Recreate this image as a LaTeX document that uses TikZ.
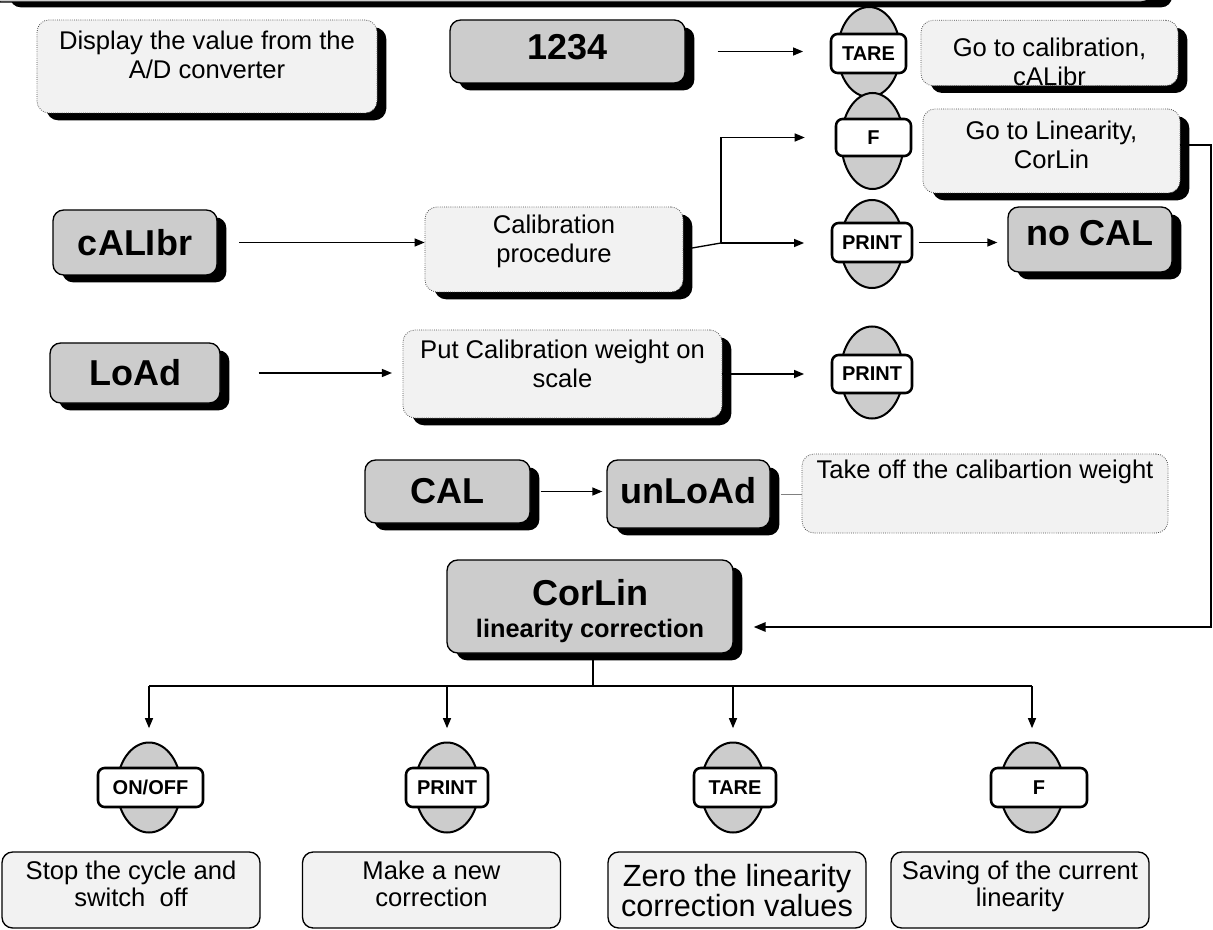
\documentclass[tikz,border=0pt]{standalone}
\usepackage{fontspec}
\setmainfont{Liberation Sans}
\usetikzlibrary{shapes.geometric,shadows,arrows.meta}

\definecolor{keygrey}{RGB}{204,204,204}
\definecolor{notegrey}{RGB}{242,242,242}

\tikzset{
	blackshadow/.style={drop shadow={shadow xshift=7pt,shadow yshift=-5.5pt,opacity=1,fill=black}},
	dispbox/.style={draw=black,line width=1pt,fill=keygrey,rounded corners=8pt,blackshadow,inner sep=2pt,font=\fontsize{27}{30}\selectfont\bfseries},
	notebox/.style={draw=black!70,densely dotted,line width=0.6pt,fill=notegrey,rounded corners=9pt,inner sep=2pt,align=center,font=\fontsize{19.2}{21.8}\selectfont,text height=35.8pt},
	shadenote/.style={notebox,blackshadow},
	endbox/.style={draw=black,line width=1pt,fill=notegrey,rounded corners=8pt,inner sep=2pt,align=center,font=\fontsize{19.2}{20.3}\selectfont,text height=34.3pt,text depth=9.2pt,minimum width=193.5pt,minimum height=57pt},
	keyoval/.style={ellipse,draw=black,line width=1.5pt,fill=keygrey,minimum width=47pt,minimum height=67.5pt,inner sep=0pt},
	keyface/.style={draw=black,line width=1.9pt,fill=white,rounded corners=5pt,minimum height=29.25pt,inner sep=1pt,font=\fontsize{15}{17}\selectfont\bfseries},
	arr/.style={-{Triangle[length=7.5pt,width=6pt]},line width=1pt},
}

\begin{document}
\begin{tikzpicture}[x=0.75pt,y=0.75pt,yscale=-1,xscale=1]
	\useasboundingbox (0,0) rectangle (1213,930);
	
	% display box cut off at the top
	\node[draw=black,line width=1pt,fill=keygrey,rounded corners=8pt,drop shadow={shadow xshift=15pt,shadow yshift=-4pt,opacity=1,fill=black},minimum width=871.5pt,minimum height=48pt] (topbar) at (571,-30) {};
	
	% row 1
	\node[shadenote,minimum width=255pt,minimum height=69.75pt,text depth=17.5pt] (adview) at (207,66.5) {Display the value from the\\A/D converter};
	\node[dispbox,minimum width=176.25pt,minimum height=47.25pt,text height=19.3pt,text depth=6.8pt] (num1234) at (567.5,51.5) {1234};
	\node[keyoval] (tareAkey) at (869,52) {};
	\node[keyface,minimum width=56.25pt] (tareA) at (868.5,53.5) {TARE};
	\node[shadenote,minimum width=192.75pt,minimum height=46.5pt,inner ysep=0pt,text height=49pt,text depth=-3pt] (gocal) at (1049.5,53) {Go to calibration,\\cALibr};
	
	% row 2
	\node[keyoval,minimum height=72pt] (fAkey) at (872.5,141) {};
	\node[keyface,minimum width=56.25pt,minimum height=27.75pt] (fA) at (873.5,137.5) {F};
	\node[shadenote,minimum width=192.75pt,minimum height=63pt,text depth=10pt] (golin) at (1051.5,151) {Go to Linearity,\\CorLin};
	
	% row 3
	\node[dispbox,minimum width=123pt,minimum height=48.75pt] (calibr) at (135,242.5) {cALIbr};
	\node[shadenote,minimum width=193.5pt,minimum height=63.75pt,text depth=16.8pt] (calproc) at (554,249.5) {Calibration\\procedure};
	\node[keyoval,minimum height=66pt] (printAkey) at (872,244) {};
	\node[keyface,minimum width=60pt] (printA) at (872,242.5) {PRINT};
	\node[dispbox,minimum width=123pt,minimum height=48.75pt,text height=19.3pt,text depth=9.8pt] (nocal) at (1090,239.5) {no CAL};
	
	% row 4
	\node[dispbox,minimum width=127.5pt,minimum height=45pt] (load) at (135,373) {LoAd};
	\node[shadenote,minimum width=239.25pt,minimum height=66pt,text depth=16pt] (putcal) at (562.5,374) {Put Calibration weight on\\scale};
	\node[keyoval,minimum height=69pt] (printBkey) at (872,372.5) {};
	\node[keyface,minimum width=60pt,minimum height=28.5pt] (printB) at (872,374) {PRINT};
	
	% row 5
	\node[dispbox,minimum width=123.75pt,minimum height=47.25pt] (cal) at (447.5,491.5) {CAL};
	\node[dispbox,minimum width=122.25pt,minimum height=51pt,text height=19.5pt,text depth=6pt] (unload) at (688.5,494) {unLoAd};
	\node[notebox,minimum width=274.5pt,minimum height=59.25pt,text height=14pt,text depth=36.2pt] (takeoff) at (985,493.5) {Take off the calibartion weight};
	
	% linearity correction
	\node[dispbox,align=center,font=\fontsize{19}{24}\selectfont\bfseries,minimum width=214.5pt,minimum height=69.75pt,inner ysep=0pt,text height=47.2pt,text depth=0pt] (corlin) at (590,606.5) {{\fontsize{27}{24}\selectfont CorLin}\\linearity correction};
	
	% keys of the correction menu
	\node[keyoval,minimum width=48pt] (onoffkey) at (149,787.5) {};
	\node[keyface,minimum width=78.75pt] (onoff) at (150.5,787.5) {ON/OFF};
	\node[keyoval,minimum width=48pt] (printCkey) at (447,787.5) {};
	\node[keyface,minimum width=61.5pt] (printC) at (447,787.5) {PRINT};
	\node[keyoval,minimum width=48pt] (tareBkey) at (733,787.5) {};
	\node[keyface,minimum width=61.5pt] (tareB) at (735,787.5) {TARE};
	\node[keyoval,minimum width=48pt] (fBkey) at (1032,787.5) {};
	\node[keyface,minimum width=72pt] (fB) at (1039,787.5) {F};
	
	\node[endbox] (stopbox) at (131,890) {Stop the cycle and\\switch\ \ off};
	\node[endbox] (makebox) at (431.5,890) {Make a new\\correction};
	\node[endbox,font=\fontsize{23}{21}\selectfont,text height=42.5pt,text depth=3.5pt] (zerobox) at (737,890) {Zero the linearity\\correction values};
	\node[endbox] (savebox) at (1020,890) {Saving of the current\\linearity};
	
	% connectors
	\coordinate (split) at (721,243);
	\coordinate (loopTop) at (1211,145);
	\coordinate (loopBot) at (1211,627);
	\coordinate (busJoin) at (593,686);
	
	\draw[arr,shorten <=24pt,shorten >=20pt] (num1234.east) -- (num1234.east -| tareA.west);
	\draw[arr,shorten <=16pt] (calibr.east) -- (calibr.east -| calproc.west);
	\draw[arr,shorten <=28.5pt,shorten >=8pt] (load.east) -- (load.east -| putcal.west);
	\draw[arr,shorten >=20pt] (putcal.east) -- (putcal.east -| printB.west);
	\draw[line width=1pt] (calproc.east) -- (split);
	\draw[arr,shorten >=20pt] (split) -- (split -| printA.west);
	\draw[arr,shorten >=22.5pt] (split) |- (fA.west);
	\draw[arr,shorten <=4.5pt,shorten >=7.5pt] (printA.east) -- (printA.east -| nocal.west);
	\draw[arr,shorten <=7.5pt,shorten >=3pt] (cal.east) -- (cal.east -| unload.west);
	\draw[gray,line width=0.6pt,shorten <=7.5pt] (unload.east) -- (unload.east -| takeoff.west);
	\draw[line width=1.5pt,-{Triangle[length=9pt,width=7pt]},shorten >=15pt] (golin.east |- loopTop) -- (loopTop) -- (loopBot) -- (loopBot -| corlin.east);
	
	\draw[line width=1.5pt] (corlin.south -| busJoin) -- (busJoin);
	\draw[line width=1.5pt] (busJoin -| onoffkey.north) -- (busJoin -| fBkey.north);
	\foreach \k in {onoffkey,printCkey,tareBkey,fBkey}
		\draw[arr,shorten >=10pt] (busJoin -| \k.north) -- (\k.north);
	
\end{tikzpicture}
\end{document}
